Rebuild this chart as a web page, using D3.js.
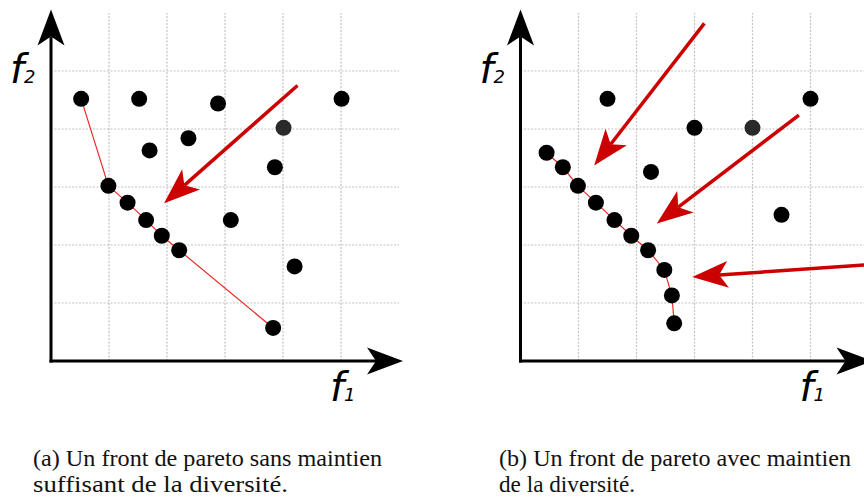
<!DOCTYPE html>
<html>
<head>
<meta charset="utf-8">
<script src="https://cdn.jsdelivr.net/npm/d3@7"></script>
<style>
  body { margin: 0; background: #fff; }
  svg { display: block; }
</style>
</head>
<body>
<script>
const w = 864;
const h = 499;

// grid lines, in objective units
const gridTicks = [1, 2, 3, 4, 5];

// (a) front without diversity upkeep
const frontA = [[0.52, 4.52], [0.99, 3.02], [1.32, 2.73], [1.64, 2.43], [1.91, 2.16], [2.21, 1.91], [3.83, 0.57]];
const otherA = [[1.52, 4.52], [2.88, 4.44], [5.01, 4.52], [2.37, 3.84], [1.70, 3.63], [3.86, 3.34], [3.10, 2.43], [4.20, 1.63]];
const greyA = [[4.01, 4.02]];
const arrowsA = [[[4.25, 4.75], [1.95, 2.72]]]; // [from, to]

// (b) front with diversity upkeep
const frontB = [[0.45, 3.59], [0.73, 3.34], [0.99, 3.02], [1.30, 2.73], [1.62, 2.43], [1.91, 2.16], [2.20, 1.91], [2.48, 1.57], [2.61, 1.13], [2.65, 0.65]];
const otherB = [[1.50, 4.52], [5.00, 4.52], [3.00, 4.02], [2.25, 3.26], [4.50, 2.52]];
const greyB = [[4.00, 4.02]];
const arrowsB = [
  [[3.17, 5.82], [1.27, 3.37]],
  [[4.80, 4.24], [2.35, 2.37]],
  [[6.54, 1.70], [2.96, 1.45]]
];

const captionA = ["(a) Un front de pareto sans maintien", "suffisant de la diversité."];
const captionB = ["(b) Un front de pareto avec maintien", "de la diversité."];

const svg = d3.select("body").append("svg").attr("width", w).attr("height", h);

// arrow head with a notched back; tip at (tx,ty), u points back to the tail
const headPath = (tx, ty, ux, uy) => {
  const L = 36, W = 13.5, N = 27;
  const px = -uy, py = ux;
  const p = d3.path();
  p.moveTo(tx, ty);
  p.lineTo(tx + ux * L + px * W, ty + uy * L + py * W);
  p.lineTo(tx + ux * N, ty + uy * N);
  p.lineTo(tx + ux * L - px * W, ty + uy * L - py * W);
  p.closePath();
  return p.toString();
};

const drawArrow = (g, x1, y1, x2, y2, color, width) => {
  const len = Math.hypot(x1 - x2, y1 - y2);
  const ux = (x1 - x2) / len, uy = (y1 - y2) / len;
  g.append("line")
    .attr("x1", x1).attr("y1", y1)
    .attr("x2", x2 + ux * 27).attr("y2", y2 + uy * 27)
    .attr("stroke", color)
    .attr("stroke-width", width);
  g.append("path").attr("d", headPath(x2, y2, ux, uy)).attr("fill", color);
};

const drawPanel = (x0, front, other, grey, arrows, caption, capX, capLen) => {
  const xScale = d3.scaleLinear().domain([0, 6]).range([x0, x0 + 348]);
  const yScale = d3.scaleLinear().domain([0, 6]).range([361, 13]);
  const g = svg.append("g");

  // dotted grid
  g.selectAll(".vgrid")
    .data(gridTicks)
    .enter()
    .append("line")
    .attr("x1", (d) => xScale(d)).attr("x2", (d) => xScale(d))
    .attr("y1", yScale(0)).attr("y2", yScale(6))
    .attr("stroke", "#c4c4c4").attr("stroke-width", 1.2)
    .attr("stroke-dasharray", "2,1.5");
  g.selectAll(".hgrid")
    .data(gridTicks)
    .enter()
    .append("line")
    .attr("x1", xScale(0)).attr("x2", xScale(6))
    .attr("y1", (d) => yScale(d)).attr("y2", (d) => yScale(d))
    .attr("stroke", "#c4c4c4").attr("stroke-width", 1.2)
    .attr("stroke-dasharray", "2,1.5");

  // axes
  drawArrow(g, xScale(0), yScale(0) + 1.5, xScale(0), 9.5, "#000", 3);
  drawArrow(g, xScale(0) - 1.5, yScale(0), xScale(0) + 352, yScale(0), "#000", 3);

  // front line
  const line = d3.line().x((d) => xScale(d[0])).y((d) => yScale(d[1]));
  g.append("path")
    .attr("d", line(front))
    .attr("fill", "none")
    .attr("stroke", "#ee2a2a")
    .attr("stroke-width", 1.2);

  // points
  g.selectAll(".pt")
    .data(front.concat(other))
    .enter()
    .append("circle")
    .attr("cx", (d) => xScale(d[0]))
    .attr("cy", (d) => yScale(d[1]))
    .attr("r", 8)
    .attr("fill", "#000");
  g.selectAll(".grey")
    .data(grey)
    .enter()
    .append("circle")
    .attr("cx", (d) => xScale(d[0]))
    .attr("cy", (d) => yScale(d[1]))
    .attr("r", 8)
    .attr("fill", "#2a2a2a");

  // red arrows
  arrows.forEach((a) => {
    drawArrow(g, xScale(a[0][0]), yScale(a[0][1]), xScale(a[1][0]), yScale(a[1][1]), "#cc0000", 3.5);
  });

  // axis labels
  const f2 = g.append("text")
    .attr("x", x0 - 41).attr("y", 83)
    .attr("font-family", "DejaVu Sans")
    .attr("font-style", "italic")
    .attr("font-size", 40);
  f2.append("tspan").text("f");
  f2.append("tspan").attr("font-size", 18).text("2");

  const f1 = g.append("text")
    .attr("x", x0 + 279).attr("y", 401)
    .attr("font-family", "DejaVu Sans")
    .attr("font-style", "italic")
    .attr("font-size", 40);
  f1.append("tspan").text("f");
  f1.append("tspan").attr("font-size", 18).text("1");

  // caption
  g.selectAll(".cap")
    .data(caption)
    .enter()
    .append("text")
    .attr("x", capX)
    .attr("y", (d, i) => 466 + i * 26)
    .attr("font-family", "Liberation Serif")
    .attr("font-size", 24)
    .attr("fill", "#111")
    .attr("textLength", (d, i) => capLen[i])
    .attr("lengthAdjust", "spacingAndGlyphs")
    .text((d) => d);
};

drawPanel(51, frontA, otherA, greyA, arrowsA, captionA, 33, [349, 255]);
drawPanel(520.5, frontB, otherB, greyB, arrowsB, captionB, 499, [352, 136]);
</script>
</body>
</html>
